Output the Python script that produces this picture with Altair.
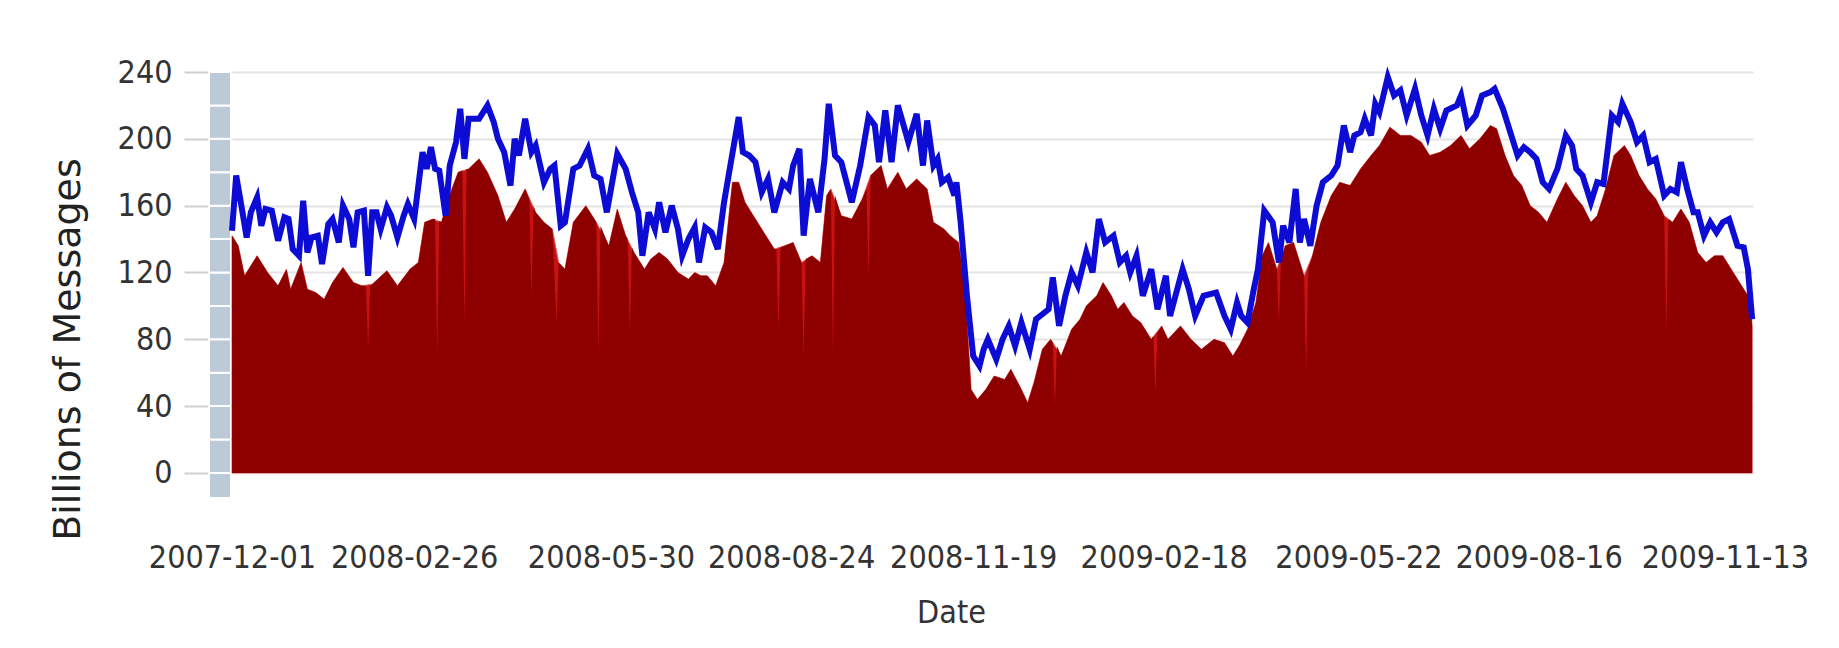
import altair as alt
import pandas as pd

START = pd.Timestamp("2007-12-01")

# ---- data (days since 2007-12-01, billions of messages) ----
blue_day = [0, 2, 5, 7, 9, 12, 14, 16, 19, 22, 25, 27, 29, 32, 34, 36, 38, 41, 43, 46,
            48, 51, 53, 56, 58, 60, 63, 65, 67, 69, 71, 74, 76, 79, 82, 84, 87, 88, 91, 93,
            95, 97, 99, 102, 104, 107, 109, 111, 113,
            118, 122, 125, 127, 130, 133, 135, 137, 140, 143, 145, 149, 152, 154, 157, 159,
            163, 166, 170, 173, 176, 179, 181, 184, 188, 191, 194, 196, 199, 202, 204, 207,
            210, 213, 215, 218, 221, 223, 226, 229, 232, 235,
            238, 242, 244, 247, 250, 253, 256, 259, 263, 266, 268, 271, 273, 276, 280, 283,
            285, 288, 291, 296, 300, 304, 307, 309, 312, 315, 318, 321, 323, 327, 330, 332,
            335, 337, 339, 342, 345, 346, 348, 351, 354, 357,
            359, 361, 365, 368, 371, 374, 377, 381, 384, 387, 390, 392, 395, 398, 401, 404,
            408, 411, 414, 417, 421, 424, 427, 429, 432, 435, 439, 442, 446, 448, 454, 457,
            460, 464, 470, 474, 477,
            480, 482, 485, 488, 490, 493, 497, 500, 502, 505, 508, 510, 512, 515, 518, 521,
            525, 528, 531, 534, 536, 539, 541, 544, 546, 548, 552, 555, 558, 561, 565, 568,
            571, 574, 577, 580, 585, 587, 590, 594, 597,
            601, 603, 607, 610, 614, 617, 620, 623, 626, 629, 633, 637, 640, 642, 645, 649,
            652, 655, 659, 662, 664, 668, 671, 674, 677, 680, 684, 687, 690, 692, 695, 698,
            700, 703, 706, 709, 712, 715, 719, 722, 724, 726]
blue_val = [145, 178, 156, 141, 156, 165, 148, 158, 157, 139, 153, 152, 134, 130, 163, 132, 141, 142, 125, 149,
            152, 138, 160, 152, 135, 156, 157, 118, 156, 156, 146, 159, 154, 141, 154, 161, 152, 162, 192, 182,
            195, 182, 181, 154, 184, 198, 218, 188, 212,
            212, 220, 210, 200, 192, 172, 200, 190, 212, 192, 196, 174, 182, 184, 148, 150,
            182, 184, 194, 178, 176, 156, 170, 191, 182, 168, 156, 130, 156, 146, 162, 144,
            160, 146, 130, 140, 147, 126, 147, 144, 134, 162,
            184, 213, 192, 190, 186, 168, 176, 156, 174, 170, 184, 194, 142, 176, 156, 188,
            221, 190, 186, 162, 184, 213, 208, 186, 217, 186, 220, 207, 198, 215, 184, 211,
            184, 188, 174, 177, 166, 174, 150, 106, 70, 64,
            74, 80, 68, 80, 88, 76, 90, 74, 92, 95, 98, 117, 88, 106, 120, 112,
            132, 120, 152, 138, 142, 126, 130, 120, 130, 106, 122, 98, 118, 94, 122, 110,
            94, 106, 108, 94, 86,
            102, 94, 90, 110, 122, 157, 150, 126, 148, 138, 170, 138, 152, 136, 160, 174,
            178, 184, 208, 192, 202, 204, 212, 202, 221, 216, 237, 226, 229, 214, 230, 214,
            202, 218, 206, 217, 220, 226, 208, 214, 226,
            228, 230, 218, 206, 190, 195, 192, 188, 174, 170, 182, 202, 196, 182, 178, 162,
            174, 173, 214, 210, 221, 210, 198, 202, 186, 188, 166, 170, 168, 186, 170, 156,
            156, 142, 150, 144, 150, 152, 136, 135, 122, 92]

red_day = [0, 3, 6, 12, 17, 22, 26, 28, 33, 36, 40, 44, 48, 53, 58, 62, 67, 74, 79, 85,
           89, 92, 96, 100, 105, 108, 113,
           118, 122, 127, 131, 135, 140, 145, 149, 153, 156, 159, 163, 169, 174, 180, 184,
           188, 192, 197, 200, 204, 208, 213, 218, 221, 224, 227, 231, 235, 237,
           239, 242, 245, 249, 254, 259, 264, 268, 272, 277, 281, 284, 286, 291, 296, 301,
           305, 310, 313, 318, 322, 327, 332, 335, 340, 343, 347, 350, 353, 356, 360,
           364, 369, 372, 377, 380, 383, 387, 391, 396, 401, 405, 408, 413, 416, 420, 423,
           426, 430, 434, 439, 444, 447, 453, 458, 463, 469, 474, 478,
           481, 485, 489, 492, 495, 499, 503, 507, 512, 516, 520, 525, 529, 534, 539, 544,
           548, 553, 558, 563, 568, 572, 577, 582, 587, 591, 596,
           601, 604, 608, 612, 616, 620, 624, 628, 633, 637, 641, 645, 649, 652, 656, 660,
           665, 668, 672, 676, 680, 684, 688, 692, 696, 700, 704, 708, 712, 716, 720, 725, 726]
red_val = [142, 136, 118, 130, 120, 112, 122, 110, 126, 110, 108, 104, 114, 123, 114, 112, 113, 121, 112, 122,
           126, 150, 152, 150, 170, 180, 182,
           188, 180, 166, 150, 158, 170, 156, 150, 146, 126, 122, 150, 160, 150, 136, 158,
           142, 132, 122, 128, 132, 128, 120, 116, 120, 118, 118, 112, 126, 150,
           174, 174, 162, 154, 144, 134, 136, 138, 126, 130, 126, 166, 170, 154, 152, 164,
           178, 184, 170, 180, 170, 176, 170, 150, 146, 142, 138, 110, 50, 44, 50,
           58, 56, 62, 50, 42, 54, 74, 80, 70, 86, 92, 100, 106, 114, 106, 98,
           102, 94, 90, 80, 88, 80, 88, 80, 74, 80, 78, 70,
           76, 86, 102, 130, 138, 122, 136, 138, 118, 130, 150, 166, 174, 172, 182, 190,
           196, 207, 202, 202, 198, 190, 192, 196, 202, 194, 200,
           208, 206, 190, 178, 172, 160, 156, 150, 164, 174, 166, 160, 150, 154, 170, 190,
           196, 190, 178, 170, 164, 154, 150, 158, 150, 132, 126, 130, 130, 122, 114, 104, 88]

# one-day drops of the red series (the thin bright streaks), with the days next to them
dip_day = [64, 65, 66, 97, 98, 99, 110, 111, 112, 142, 143, 144, 155, 175, 176,
           189, 190, 191, 260, 261, 262, 273, 274, 287, 288, 303, 304,
           392, 393, 394, 440, 441, 442, 500, 501, 513, 514, 685, 686]
dip_val = [112, 75, 112, 152, 70, 151, 181, 88, 182, 164, 106, 160, 90, 70, 148,
           140, 84, 135, 134, 86, 135, 70, 128, 72, 166, 170, 118,
           78, 40, 76, 82, 48, 84, 90, 128, 60, 122, 84, 152]

tick_dates = ["2007-12-01", "2008-02-26", "2008-05-30", "2008-08-24", "2008-11-19",
              "2009-02-18", "2009-05-22", "2009-08-16", "2009-11-13"]
y_ticks = [0, 40, 80, 120, 160, 200, 240]
band_lo = [-15, 0, 20, 40, 60, 80, 100, 120, 140, 160, 180, 200, 220]
band_hi = [0, 20, 40, 60, 80, 100, 120, 140, 160, 180, 200, 220, 240]

# ---- tables ----
blue_df = pd.DataFrame({"date": START + pd.to_timedelta(blue_day, unit="D"), "value": blue_val})
upper_df = pd.DataFrame({"date": START + pd.to_timedelta(red_day, unit="D"), "value": red_val})
red_df = pd.DataFrame({"day": red_day + dip_day, "value": red_val + dip_val})
red_df = red_df.sort_values("day").reset_index(drop=True)
red_df["date"] = START + pd.to_timedelta(red_df["day"], unit="D")
red_df = red_df[["date", "value"]]
band_df = pd.DataFrame({"lo": band_lo, "hi": band_hi})

COND = "DejaVu Sans Condensed, DejaVu Sans"
TXT = "#333333"

def dt(s):
    t = pd.Timestamp(s)
    return alt.DateTime(year=t.year, month=t.month, date=t.day)

x_scale = alt.Scale(domain=[dt("2007-12-01"),
                            alt.DateTime(year=2009, month=11, date=26, hours=10)])
y_scale = alt.Scale(domain=[-15, 240], nice=False, zero=False)

x_axis = alt.Axis(values=[dt(s) for s in tick_dates], format="%Y-%m-%d", formatType="time",
                  grid=False, domain=False, ticks=False, tickSize=0,
                  labelPadding=44, labelFont=COND, labelFontSize=32, labelColor=TXT,
                  labelOverlap=False, labelFlush=False, labelBound=False,
                  title="Date", titleFont=COND, titleFontSize=32, titleFontWeight="normal",
                  titleColor=TXT, titleBaseline="middle", titleAlign="center",
                  titleX=719, titleY=114)

y_axis = alt.Axis(values=y_ticks, grid=True, gridColor="#e4e4e4", gridWidth=2,
                  domain=False, ticks=True, tickSize=24, tickWidth=2, tickColor="#cfcfcf",
                  offset=24, labelPadding=12, labelFont=COND, labelFontSize=32,
                  labelColor=TXT, title="Billions of Messages", titleFont="DejaVu Sans",
                  titleFontSize=38, titleFontWeight="normal", titleColor="#222222",
                  titleAngle=270, titleAlign="center", titleBaseline="middle",
                  titleX=-140, titleY=277)

bands = alt.Chart(band_df).mark_rect(color="#bccad8", stroke="white", strokeWidth=2).encode(
    x=alt.value(-23), x2=alt.value(-1),
    y=alt.Y("lo:Q", scale=y_scale, axis=y_axis), y2="hi:Q")

# bright red envelope underneath, so the one-day drops show as light-red streaks
upper = alt.Chart(upper_df).mark_area(color="#c81212", stroke="#e06060", strokeWidth=1).encode(
    x=alt.X("date:T", scale=x_scale, axis=x_axis),
    y=alt.Y("value:Q", scale=y_scale, axis=y_axis),
    y2=alt.datum(0))

area = alt.Chart(red_df).mark_area(color="#8e0000").encode(
    x=alt.X("date:T", scale=x_scale, axis=x_axis),
    y=alt.Y("value:Q", scale=y_scale, axis=y_axis),
    y2=alt.datum(0))

line = alt.Chart(blue_df).mark_line(color="#0c0cd4", strokeWidth=6).encode(
    x=alt.X("date:T", scale=x_scale, axis=x_axis),
    y=alt.Y("value:Q", scale=y_scale, axis=y_axis))

chart = alt.layer(bands, upper, area, line).properties(
    width=1521, height=426,
    padding={"left": 224, "top": 64, "right": 78, "bottom": 142},
    autosize=alt.AutoSizeParams(type="none"),
    background="white",
).configure_view(strokeWidth=0)

chart.save("out.html", embed_options={"renderer": "svg", "actions": False})
